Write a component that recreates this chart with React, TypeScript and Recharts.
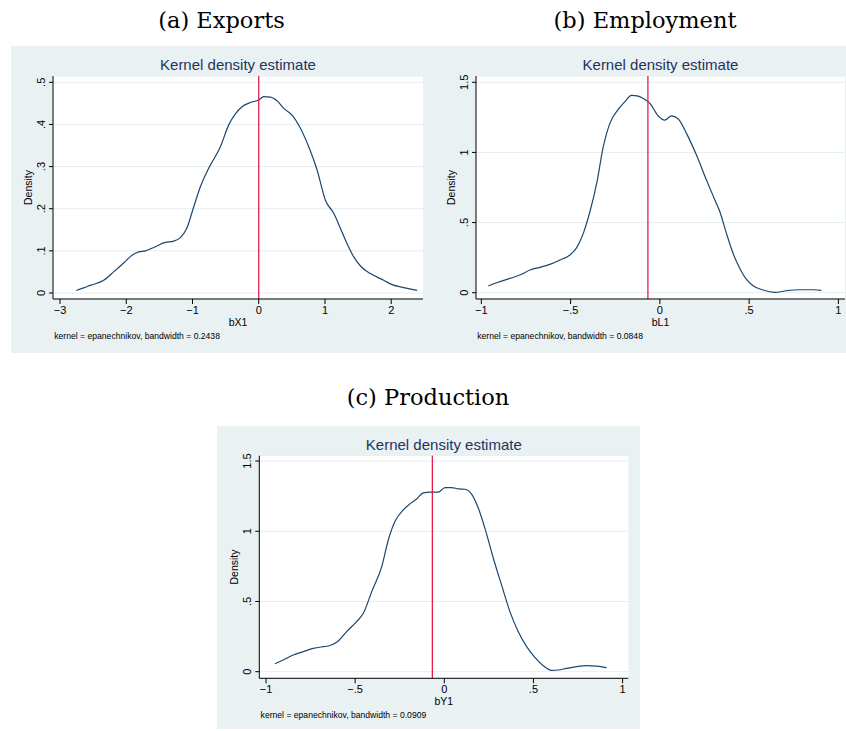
import React from "react";
import { LineChart, Line, XAxis, YAxis, CartesianGrid, ReferenceLine } from "recharts";

// (a) Exports: bX1
const exportsX = [-2.754, -2.643, -2.543, -2.341, -2.19, -2.04, -1.913, -1.813, -1.712, -1.586, -1.41, -1.284, -1.183, -1.093, -0.982, -0.881, -0.755, -0.579, -0.453, -0.352, -0.252, -0.126, 0, 0.076, 0.176, 0.277, 0.378, 0.503, 0.629, 0.755, 0.881, 1.007, 1.133, 1.234, 1.334, 1.435, 1.536, 1.687, 1.888, 2.014, 2.14, 2.392];
const exportsDensity = [0.006, 0.012, 0.018, 0.03, 0.05, 0.071, 0.0895, 0.0975, 0.1, 0.108, 0.12, 0.123, 0.1315, 0.151, 0.204, 0.252, 0.296, 0.347, 0.399, 0.425, 0.442, 0.452, 0.458, 0.466, 0.465, 0.456, 0.438, 0.422, 0.391, 0.347, 0.292, 0.22, 0.189, 0.153, 0.117, 0.0856, 0.064, 0.046, 0.03, 0.0198, 0.0143, 0.006];

// (b) Employment: bL1
const employmentX = [-0.961, -0.914, -0.84, -0.774, -0.728, -0.672, -0.616, -0.56, -0.504, -0.466, -0.429, -0.392, -0.354, -0.317, -0.28, -0.233, -0.196, -0.159, -0.121, -0.093, -0.056, -0.009, 0.028, 0.065, 0.103, 0.149, 0.205, 0.261, 0.308, 0.336, 0.373, 0.41, 0.448, 0.485, 0.522, 0.578, 0.644, 0.709, 0.784, 0.858, 0.905];
const employmentDensity = [0.048, 0.071, 0.102, 0.131, 0.162, 0.181, 0.202, 0.233, 0.269, 0.321, 0.423, 0.577, 0.779, 1.041, 1.207, 1.307, 1.362, 1.407, 1.402, 1.385, 1.35, 1.26, 1.231, 1.26, 1.238, 1.136, 0.981, 0.803, 0.661, 0.577, 0.423, 0.28, 0.173, 0.095, 0.05, 0.019, 0.0024, 0.014, 0.021, 0.021, 0.017];

// (c) Production: bY1
const productionX = [-0.95, -0.903, -0.847, -0.791, -0.735, -0.679, -0.65, -0.604, -0.548, -0.492, -0.454, -0.407, -0.351, -0.314, -0.277, -0.23, -0.193, -0.155, -0.118, -0.08, -0.034, 0.004, 0.041, 0.079, 0.116, 0.153, 0.191, 0.228, 0.275, 0.321, 0.368, 0.415, 0.462, 0.508, 0.555, 0.602, 0.639, 0.686, 0.742, 0.798, 0.854, 0.91];
const productionDensity = [0.057, 0.083, 0.119, 0.143, 0.166, 0.178, 0.183, 0.209, 0.285, 0.356, 0.416, 0.57, 0.748, 0.938, 1.069, 1.152, 1.195, 1.23, 1.273, 1.278, 1.278, 1.311, 1.311, 1.302, 1.299, 1.264, 1.164, 1.021, 0.808, 0.618, 0.428, 0.285, 0.178, 0.102, 0.043, 0.0095, 0.012, 0.024, 0.036, 0.043, 0.04, 0.029];

const exportsXTicks = [-3, -2, -1, 0, 1, 2];
const exportsYTicks = [0, 0.1, 0.2, 0.3, 0.4, 0.5];
const shareXTicks = [-1, -0.5, 0, 0.5, 1];
const shareYTicks = [0, 0.5, 1, 1.5];

const markers = { exports: 0, employment: -0.067, production: -0.067 };
const bandwidths = { exports: "0.2438", employment: "0.0848", production: "0.0909" };

const NAVY = "#1a476f";
const RED = "#e01f4e";
const BG = "#e9f1f3";
const SANS = "'Liberation Sans', Arial, sans-serif";
const SERIF = "'DejaVu Serif', serif";

// stata style labels: .5, -.5, 0, 1.5
function fmt(v: number) {
  if (v === 0) return "0";
  let s = String(Math.abs(v));
  if (s.startsWith("0.")) s = s.slice(1);
  return (v < 0 ? "\u2212" : "") + s;
}

function RotatedTick(props: any) {
  const { x, y, payload } = props;
  return (
    <text
      x={x}
      y={y}
      transform={`rotate(-90 ${x} ${y})`}
      textAnchor="middle"
      dominantBaseline="central"
      fontSize={11}
      fontFamily={SANS}
      fill="#000"
    >
      {fmt(payload.value)}
    </text>
  );
}

interface Box {
  left: number;
  top: number;
  width: number;
  height: number;
  plotLeft: number;
  plotRight: number;
  plotTop: number;
  plotBottom: number;
}

interface PanelProps {
  box: Box;
  xs: number[];
  ys: number[];
  xDomain: [number, number];
  yDomain: [number, number];
  xTicks: number[];
  yTicks: number[];
  marker: number;
  xLabel: string;
}

function Panel({ box, xs, ys, xDomain, yDomain, xTicks, yTicks, marker, xLabel }: PanelProps) {
  const data = xs.map((x, i) => ({ x, y: ys[i] }));
  const yW = box.plotLeft - box.left;
  const xH = 30;
  const margin = {
    top: box.plotTop - box.top,
    right: box.left + box.width - box.plotRight,
    left: 0,
    bottom: box.top + box.height - box.plotBottom - xH,
  };
  return (
    <div style={{ position: "absolute", left: box.left, top: box.top, width: box.width, height: box.height, background: BG }}>
      <LineChart width={box.width} height={box.height} data={data} margin={margin}>
        <CartesianGrid horizontal vertical={false} stroke="#e6eef0" fill="#fff" fillOpacity={1} />
        <XAxis
          dataKey="x"
          type="number"
          domain={xDomain}
          ticks={xTicks}
          interval={0}
          allowDataOverflow
          height={xH}
          tickFormatter={fmt}
          tick={{ fill: "#000", fontSize: 11, fontFamily: SANS }}
          tickSize={5}
          tickMargin={2}
          axisLine={{ stroke: "#000", strokeWidth: 1 }}
          tickLine={{ stroke: "#000", strokeWidth: 1 }}
          label={{ value: xLabel, position: "insideBottom", offset: 3, fill: "#000", fontSize: 10.5, fontFamily: SANS }}
        />
        <YAxis
          type="number"
          domain={yDomain}
          ticks={yTicks}
          interval={0}
          allowDataOverflow
          width={yW}
          tick={RotatedTick}
          tickSize={4}
          tickMargin={8}
          axisLine={{ stroke: "#000", strokeWidth: 1 }}
          tickLine={{ stroke: "#000", strokeWidth: 1 }}
          label={{
            value: "Density",
            angle: -90,
            position: "insideLeft",
            offset: yW - 25,
            fill: "#000",
            fontSize: 10.5,
            fontFamily: SANS,
            style: { textAnchor: "middle" },
          }}
        />
        <Line type="monotone" dataKey="y" stroke={NAVY} strokeWidth={1.2} dot={false} isAnimationActive={false} />
        <ReferenceLine x={marker} stroke={RED} strokeWidth={1.3} />
      </LineChart>
    </div>
  );
}

const boxA: Box = { left: 11, top: 46, width: 419, height: 307, plotLeft: 53, plotRight: 423, plotTop: 76, plotBottom: 299 };
const boxB: Box = { left: 430, top: 46, width: 416, height: 307, plotLeft: 476, plotRight: 845, plotTop: 76, plotBottom: 299 };
const boxC: Box = { left: 217, top: 426, width: 423, height: 303, plotLeft: 259.3, plotRight: 628.3, plotTop: 455.7, plotBottom: 678.3 };

export default function App() {
  const panels = [
    { box: boxA, bw: bandwidths.exports },
    { box: boxB, bw: bandwidths.employment },
    { box: boxC, bw: bandwidths.production },
  ];
  return (
    <div style={{ position: "absolute", left: 0, top: 0, width: 846, height: 731, background: "#fff", overflow: "hidden" }}>
      <Panel box={boxA} xs={exportsX} ys={exportsDensity} xDomain={[-3.106, 2.48]} yDomain={[-0.0143, 0.515]}
        xTicks={exportsXTicks} yTicks={exportsYTicks} marker={markers.exports} xLabel="bX1" />
      <Panel box={boxB} xs={employmentX} ys={employmentDensity} xDomain={[-1.03, 1.037]} yDomain={[-0.045, 1.545]}
        xTicks={shareXTicks} yTicks={shareYTicks} marker={markers.employment} xLabel="bL1" />
      <Panel box={boxC} xs={productionX} ys={productionDensity} xDomain={[-1.0376, 1.032]} yDomain={[-0.047, 1.538]}
        xTicks={shareXTicks} yTicks={shareYTicks} marker={markers.production} xLabel="bY1" />
      {/* captions, panel titles and kernel notes */}
      <svg width={846} height={731} style={{ position: "absolute", left: 0, top: 0, pointerEvents: "none" }}>
        <text x={221.5} y={28} textAnchor="middle" fontFamily={SERIF} fontSize={22.5} fill="#000">(a) Exports</text>
        <text x={645} y={28} textAnchor="middle" fontFamily={SERIF} fontSize={22.5} fill="#000">(b) Employment</text>
        <text x={428} y={405} textAnchor="middle" fontFamily={SERIF} fontSize={22.5} fill="#000">(c) Production</text>
        {panels.map((p, i) => (
          <g key={i}>
            <text x={(p.box.plotLeft + p.box.plotRight) / 2} y={p.box.plotTop - 6} textAnchor="middle" fontFamily={SANS} fontSize={15} fill="#1f3460">
              Kernel density estimate
            </text>
            <text x={p.box.plotLeft + 1.3} y={p.box.plotBottom + 39.5} fontFamily={SANS} fontSize={8.6} fill="#000">
              {`kernel = epanechnikov, bandwidth = ${p.bw}`}
            </text>
          </g>
        ))}
      </svg>
    </div>
  );
}
